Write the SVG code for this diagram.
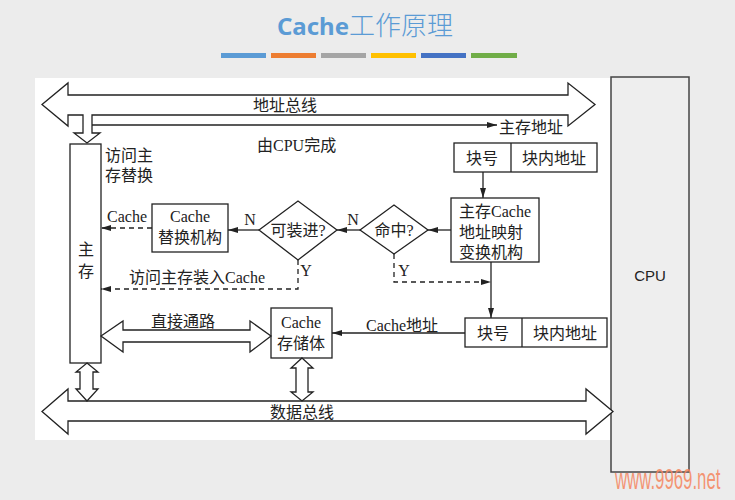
<svg xmlns="http://www.w3.org/2000/svg" width="735" height="500" viewBox="0 0 735 500">
<defs>
<marker id="ah" viewBox="0 0 10 6" refX="10" refY="3" markerWidth="10" markerHeight="6" markerUnits="userSpaceOnUse" orient="auto">
<path d="M0,0 L10,3 L0,6 Z" fill="#222"/>
</marker>
<style>
.t{font-family:"Liberation Serif","Noto Sans CJK SC",serif;font-size:16px;fill:#222;dominant-baseline:central}
.m{text-anchor:middle}
.box{fill:#fff;stroke:#222;stroke-width:1.3}
.big{fill:#fff;stroke:#222;stroke-width:1.3;stroke-linejoin:miter}
.ln{fill:none;stroke:#222;stroke-width:1.3}
.dash{fill:none;stroke:#222;stroke-width:1.3;stroke-dasharray:5 4}
</style>
</defs>
<rect x="0" y="0" width="735" height="500" fill="#ececec"/>
<rect x="35" y="78" width="576" height="362" fill="#fff"/>
<g id="title">
<text x="365" y="35" text-anchor="middle" fill="#5b9bd5" font-size="26" font-family="Noto Sans CJK SC, sans-serif"><tspan font-weight="bold" font-family="Noto Sans, sans-serif" font-size="24">Cache</tspan><tspan font-weight="300">工作原理</tspan></text>
<rect x="221" y="53" width="45" height="5" fill="#5b9bd5"/>
<rect x="271" y="53" width="45" height="5" fill="#ed7d31"/>
<rect x="321" y="53" width="45" height="5" fill="#a5a5a5"/>
<rect x="371" y="53" width="45" height="5" fill="#ffc000"/>
<rect x="421" y="53" width="45" height="5" fill="#4472c4"/>
<rect x="471" y="53" width="46" height="5" fill="#70ad47"/>
</g>
<g id="cpu">
<rect x="611" y="77" width="78" height="395" fill="#eeeeee" stroke="#444" stroke-width="1.5"/>
<text x="650" y="275" text-anchor="middle" dominant-baseline="central" font-family="Liberation Sans, sans-serif" font-size="15" fill="#222">CPU</text>
</g>
<g id="address-bus">
<path class="big" d="M42,104.5 L68,83 L68,95 L568,95 L568,83 L595,104.5 L568,126 L568,115 L92,115 L92,133 L100,133 L87,143 L74,133 L83,133 L83,115 L68,115 L68,126 Z"/>
<text class="t m" x="285" y="105">地址总线</text>
</g>
<g id="data-bus">
<path class="big" d="M42,411.5 L68,389 L68,401 L586,401 L586,389 L613,411.5 L586,434 L586,421 L68,421 L68,434 Z"/>
<text class="t m" x="302" y="412">数据总线</text>
</g>
<g id="main-memory">
<rect class="box" x="70" y="144" width="31" height="219"/>
<text class="t m" x="86" y="249">主</text>
<text class="t m" x="86" y="271">存</text>
</g>
<g id="replace-mech">
<rect class="box" x="152" y="204" width="76" height="48"/>
<text class="t m" x="190" y="216">Cache</text>
<text class="t m" x="190" y="237">替换机构</text>
</g>
<g id="can-load">
<path class="box" d="M259,230 L298,201 L337,230 L298,260 Z"/>
<text class="t m" x="298" y="230" font-size="15">可装进?</text>
</g>
<g id="hit">
<path class="box" d="M360,230 L394,205 L428,230 L394,254 Z"/>
<text class="t m" x="394" y="230" font-size="15">命中?</text>
</g>
<g id="mapping">
<rect class="box" x="451" y="198" width="88" height="64"/>
<text class="t" x="459" y="211">主存Cache</text>
<text class="t" x="459" y="232">地址映射</text>
<text class="t" x="459" y="252">变换机构</text>
</g>
<g id="mem-address">
<rect class="box" x="454" y="143" width="143" height="29"/>
<line class="ln" x1="511" y1="143" x2="511" y2="172"/>
<text class="t m" x="482" y="158">块号</text>
<text class="t m" x="554" y="158">块内地址</text>
</g>
<g id="cache-address">
<rect class="box" x="465" y="318" width="142" height="29"/>
<line class="ln" x1="522" y1="318" x2="522" y2="347"/>
<text class="t m" x="493" y="333">块号</text>
<text class="t m" x="565" y="333">块内地址</text>
</g>
<g id="cache-store">
<rect class="box" x="271" y="308" width="61" height="50"/>
<text class="t m" x="301" y="322">Cache</text>
<text class="t m" x="301" y="343">存储体</text>
</g>
<g id="connectors">
<path class="big" d="M101,336 L123,321 L123,330 L250,330 L250,321 L271,336 L250,352 L250,342 L123,342 L123,352 Z"/>
<path class="big" d="M87,363 L98,372 L93,372 L93,389 L98,389 L87,401 L76,389 L80,389 L80,372 L76,372 Z"/>
<path class="big" d="M302,358 L313,368 L308,368 L308,392 L313,392 L302,401 L291,392 L296,392 L296,368 L291,368 Z"/>
<line class="ln" x1="92" y1="125" x2="497" y2="125" marker-end="url(#ah)"/>
<line class="ln" x1="483" y1="172" x2="483" y2="198" marker-end="url(#ah)"/>
<line class="ln" x1="451" y1="230" x2="428" y2="230" marker-end="url(#ah)"/>
<line class="ln" x1="360" y1="230" x2="337" y2="230" marker-end="url(#ah)"/>
<line class="ln" x1="259" y1="230" x2="228" y2="230" marker-end="url(#ah)"/>
<line class="ln" x1="491" y1="262" x2="491" y2="318" marker-end="url(#ah)"/>
<line class="ln" x1="465" y1="333" x2="332" y2="333" marker-end="url(#ah)"/>
<line class="dash" x1="152" y1="228" x2="101" y2="228" marker-end="url(#ah)"/>
<polyline class="dash" points="298,260 298,289 101,289" marker-end="url(#ah)"/>
<polyline class="dash" points="394,254 394,282 491,282" marker-end="url(#ah)"/>
</g>
<g id="labels">
<text class="t" x="499" y="127">主存地址</text>
<text class="t" x="257" y="145">由CPU完成</text>
<text class="t" x="105" y="155">访问主</text>
<text class="t" x="105" y="175">存替换</text>
<text class="t m" x="353" y="219" font-size="15">N</text>
<text class="t m" x="250" y="219" font-size="15">N</text>
<text class="t m" x="127" y="216" font-size="15">Cache</text>
<text class="t m" x="306" y="270" font-size="15">Y</text>
<text class="t m" x="404" y="270" font-size="15">Y</text>
<text class="t m" x="197" y="277">访问主存装入Cache</text>
<text class="t m" x="402" y="325">Cache地址</text>
<text class="t m" x="183" y="321">直接通路</text>
</g>
<text transform="translate(615,489) scale(0.56,1)" font-family="Liberation Sans, sans-serif" font-size="30" fill="#f5845c" fill-opacity="0.85">www.9969.net</text>
</svg>
